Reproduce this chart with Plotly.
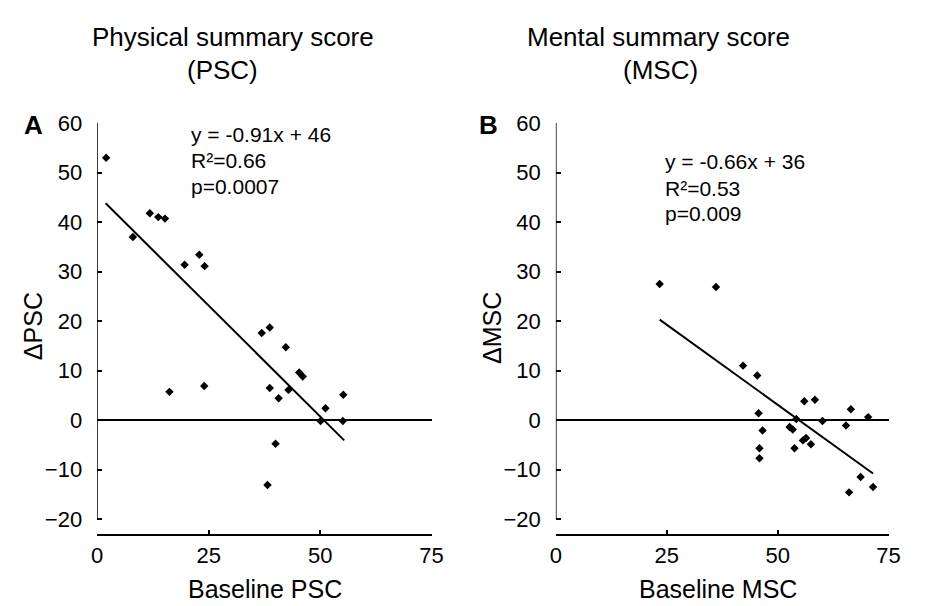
import plotly.graph_objects as go

# ---- data ----
psc_baseline = [2, 8, 11.8, 13.7, 15.2, 19.6, 22.9, 24.1, 36.9, 38.7, 42.3, 16.2, 24.0,
                38.7, 40.7, 42.9, 45.3, 46.1, 51.2, 50.1, 55.2, 55.1, 40.0, 38.2]
psc_delta = [53, 37, 41.8, 41, 40.7, 31.4, 33.4, 31.1, 17.6, 18.7, 14.7, 5.7, 6.9,
             6.5, 4.4, 6.1, 9.6, 8.8, 2.4, -0.2, 5.1, -0.2, -4.8, -13.1]
psc_fit_x = [1.9, 55.4]
psc_fit_y = [43.8, -4.1]

msc_baseline = [23.4, 36.1, 42.2, 45.4, 45.7, 46.6, 45.9, 45.9, 52.7, 53.4, 53.8, 54.2,
                56.0, 58.4, 55.7, 56.4, 57.5, 60.1, 65.4, 66.5, 70.4, 66.1, 68.7, 71.5]
msc_delta = [27.5, 26.9, 11.0, 9.0, 1.4, -2.1, -5.7, -7.7, -1.4, -1.9, -5.7, 0.2,
             3.8, 4.1, -4.1, -3.6, -4.9, -0.2, -1.1, 2.2, 0.6, -14.6, -11.5, -13.5]
msc_fit_x = [23.4, 71.5]
msc_fit_y = [20.3, -10.8]

x_ticks = [0, 25, 50, 75]
y_ticks = [-20, -10, 0, 10, 20, 30, 40, 50, 60]

W, H = 929, 606
FONT = "Liberation Sans, Arial, Helvetica, sans-serif"


def px(x):
    return x / W


def py(y):
    return 1 - y / H


fig = go.Figure()

marker = dict(symbol="diamond", size=6.5, color="black")
fig.add_trace(go.Scatter(x=psc_baseline, y=psc_delta, mode="markers", marker=marker,
                         xaxis="x", yaxis="y", showlegend=False))
fig.add_trace(go.Scatter(x=psc_fit_x, y=psc_fit_y, mode="lines",
                         line=dict(color="black", width=2), xaxis="x", yaxis="y", showlegend=False))
fig.add_trace(go.Scatter(x=msc_baseline, y=msc_delta, mode="markers", marker=marker,
                         xaxis="x2", yaxis="y2", showlegend=False))
fig.add_trace(go.Scatter(x=msc_fit_x, y=msc_fit_y, mode="lines",
                         line=dict(color="black", width=2), xaxis="x2", yaxis="y2", showlegend=False))

ydom = [py(533), py(113.3)]
xcommon = dict(range=[0, 75], tickvals=x_ticks, ticks="inside", ticklen=5, tickwidth=1.5,
               tickcolor="black", showline=True, linecolor="black", linewidth=1.5,
               showgrid=False, zeroline=False, tickfont=dict(family=FONT, size=22, color="black"),
               ticklabelstandoff=0)
ycommon = dict(range=[-23.1, 60], tickvals=y_ticks, ticks="inside", ticklen=5, tickwidth=1.5,
               tickcolor="black", showline=False, showgrid=False, zeroline=True,
               zerolinecolor="black", zerolinewidth=1.5,
               tickfont=dict(family=FONT, size=22, color="black"), ticklabelstandoff=14)

fig.update_layout(
    width=W, height=H,
    margin=dict(l=0, r=0, t=0, b=0),
    paper_bgcolor="white", plot_bgcolor="white",
    font=dict(family=FONT, color="black"),
    xaxis=dict(domain=[px(93), px(434)], anchor="y", **xcommon),
    yaxis=dict(domain=ydom, anchor="x", **ycommon),
    xaxis2=dict(domain=[px(560.7), px(900)], anchor="y2", **xcommon),
    yaxis2=dict(domain=ydom, anchor="x2", **ycommon),
)

# y-axis lines spanning only -20..60
fig.add_shape(type="line", xref="x", yref="y", x0=0, x1=0, y0=-20, y1=60,
              line=dict(color="black", width=1.5))
fig.add_shape(type="line", xref="x2", yref="y2", x0=0, x1=0, y0=-20, y1=60,
              line=dict(color="black", width=1.5))


def ann(text, x, y, size, xanchor="center", bold=False, angle=0):
    fig.add_annotation(text=f"<b>{text}</b>" if bold else text, x=px(x), y=py(y),
                       xref="paper", yref="paper", xanchor=xanchor, yanchor="middle",
                       showarrow=False, textangle=angle,
                       font=dict(family=FONT, size=size, color="black"))


# titles
ann("Physical summary score", 231, 26, 26)
ann("(PSC)", 221, 59, 26)
ann("Mental summary score", 665, 26, 26)
ann("(MSC)", 667, 59, 26)

# panel letters
ann("A", 28, 115, 26, bold=True)
ann("B", 492, 115, 26, bold=True)

# axis titles
ann("ΔPSC", 27, 320, 25, angle=-90)
ann("ΔMSC", 495, 322, 25, angle=-90)
ann("Baseline PSC", 264, 589, 25)
ann("Baseline MSC", 726, 589, 25)

# regression text
ann("y = -0.91x + 46", 187, 125, 21, xanchor="left")
ann("R²=0.66", 187, 152, 21, xanchor="left")
ann("p=0.0007", 187, 178, 21, xanchor="left")
ann("y = -0.66x + 36", 670, 153, 21, xanchor="left")
ann("R²=0.53", 670, 180, 21, xanchor="left")
ann("p=0.009", 670, 206, 21, xanchor="left")

fig.write_html("out.html")
